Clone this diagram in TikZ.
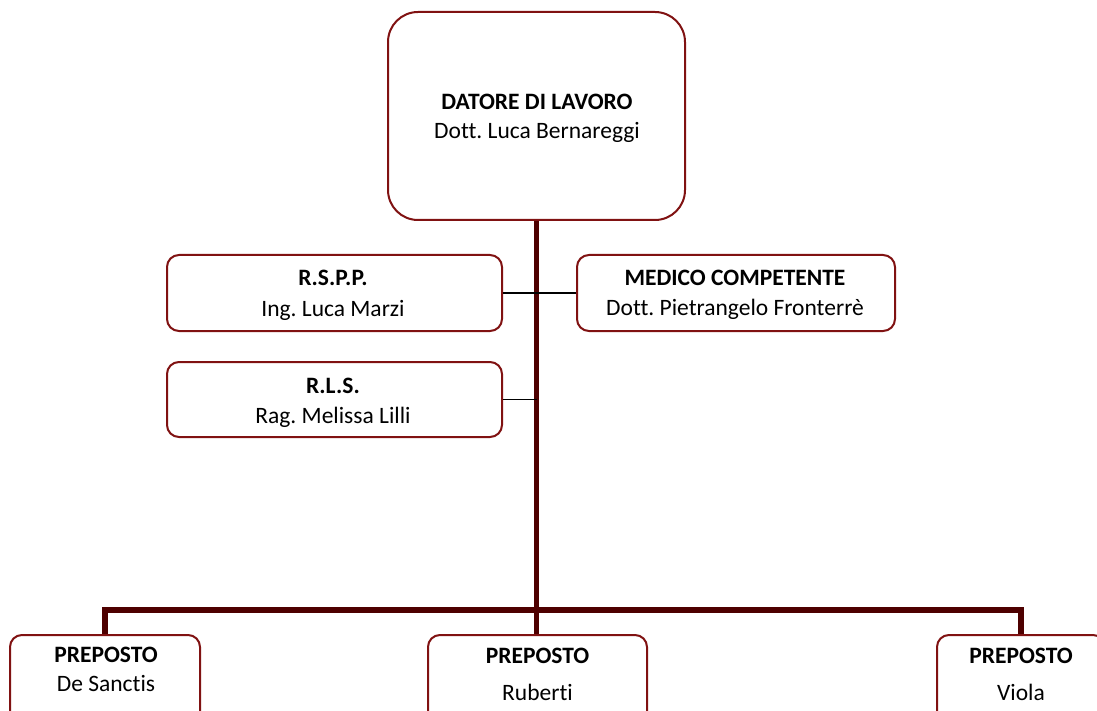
\documentclass[tikz,border=0pt]{standalone}
\usepackage{fontspec}
\setmainfont{Carlito}[Ligatures=CommonOff]
\frenchspacing
\definecolor{boxred}{RGB}{128,18,18}
\definecolor{trunkred}{RGB}{78,0,0}
\begin{document}
\begin{tikzpicture}[x=1pt,y=-1pt,
  box/.style={draw=boxred,line width=2pt,fill=white,rounded corners=12pt,inner sep=0pt},
  txt/.style={font=\fontsize{23.5}{28}\selectfont,inner sep=0pt,anchor=base},
  thickline/.style={draw=trunkred,line width=5.5pt,line join=miter},
  thinline/.style={draw=black,line width=1.8pt}]
\useasboundingbox (0,0) rectangle (1097,711);
\clip (0,0) rectangle (1097,711);
% coordinates
\coordinate (bar) at (537,610);
% boxes
\node[box,rounded corners=30pt,minimum width=297pt,minimum height=208pt] (top) at (536.5,116) {};
\node[box,minimum width=335pt,minimum height=76pt] (rspp) at (334.5,293) {};
\node[box,minimum width=335pt,minimum height=75pt] (rls) at (334.5,399.5) {};
\node[box,minimum width=318pt,minimum height=76pt] (medico) at (736,293) {};
\node[box,minimum width=190pt,minimum height=110pt] (pl) at (105,690) {};
\node[box,minimum width=219pt,minimum height=110pt] (pm) at (537.5,690) {};
\node[box,minimum width=168pt,minimum height=110pt] (pr) at (1021,690) {};
% connectors
\draw[thickline] (top.south) -- (top.south |- pm.north);
\draw[thickline] (pl.north) -- (pl.north |- bar) -- (pr.north |- bar) -- (pr.north);
\draw[thinline] (rspp.east) -- (medico.west);
\draw[thinline] (rls.east) -- (rls.east -| top.south);
% texts
\node[txt] (topA) at (537,110) {\textbf{DATORE DI LAVORO}};
\node[txt] (topB) at (537,139) {Dott. Luca Bernareggi};
\node[txt] (rsppA) at (333,286) {\textbf{R.S.P.P.}};
\node[txt] (rsppB) at (333,316) {Ing. Luca Marzi};
\node[txt] (rlsA) at (333,393) {\textbf{R.L.S.}};
\node[txt] (rlsB) at (333,423) {Rag. Melissa Lilli};
\node[txt] (medA) at (735,285) {\textbf{MEDICO COMPETENTE}};
\node[txt] (medB) at (735,315) {Dott. Pietrangelo Fronterrè};
\node[txt] (plA) at (106,662) {\textbf{PREPOSTO}};
\node[txt] (plB) at (106,691) {De Sanctis};
\node[txt] (pmA) at (537.5,663) {\textbf{PREPOSTO}};
\node[txt] (pmB) at (537.5,700) {Ruberti};
\node[txt] (prA) at (1021,663) {\textbf{PREPOSTO}};
\node[txt] (prB) at (1021,700) {Viola};
\end{tikzpicture}
\end{document}
